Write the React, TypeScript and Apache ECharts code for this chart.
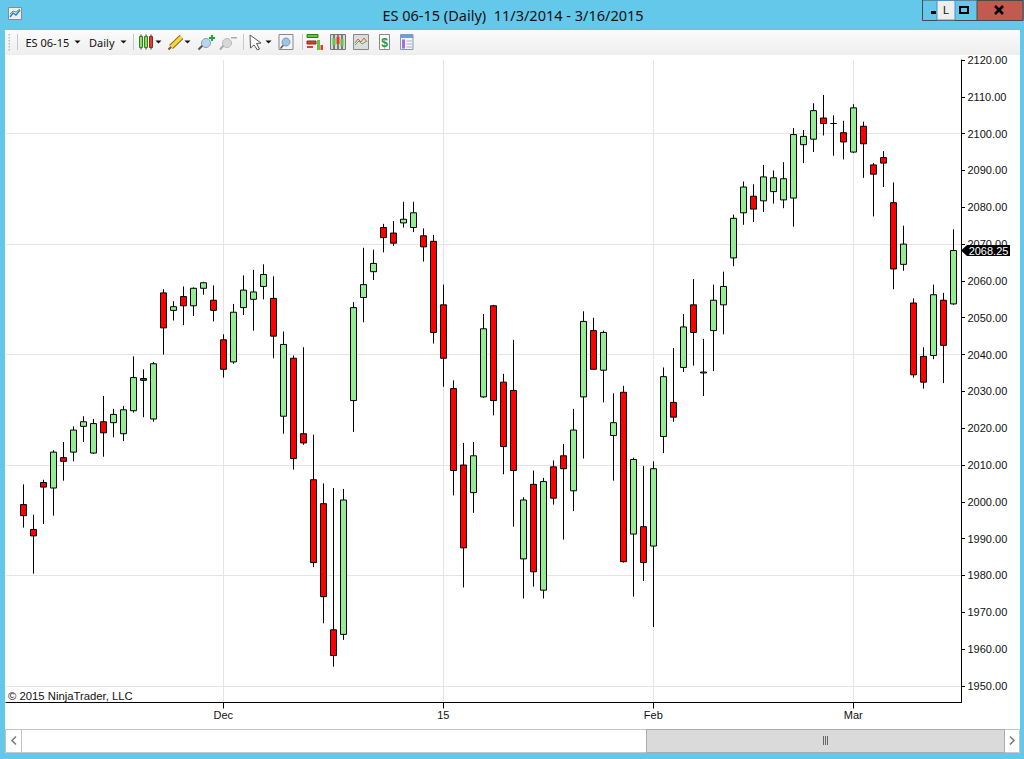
import React, { useEffect, useRef } from "react";
import * as echarts from "echarts";

const opens = [1999.25,1992.5,2005.25,2003.75,2012,2013.5,2020.5,2013.25,2021.75,2021.5,2018.5,2024.75,2033.5,2022.5,2056.75,2052,2055.75,2053.25,2058,2054.75,2044,2038,2052.75,2055,2058.5,2055.25,2023.25,2039,2018.5,2006,1999.5,1965.25,1964,2027.5,2055.5,2062.5,2074.5,2073,2075.75,2074.5,2072.25,2070.75,2053.5,2030.75,2010,2002.5,2028.5,2053.25,2032.5,2030.25,1984.5,2004.75,1976,2009.5,2012.5,2003,2028.5,2046.5,2035.75,2018,2029.75,1991.25,1993.25,1988,2017.75,2027,2036.5,2053.5,2035,2046.5,2053.5,2066.25,2078.5,2083,2081.75,2084.25,2082,2082.5,2097,2098.5,2104.25,2102.75,2100.25,2095,2102,2091.5,2093.5,2081.25,2064.5,2054,2039.5,2039.75,2054.75,2053.75];
const closes = [1996.25,1990.75,2004,2013.5,2011,2019.5,2021.75,2021.25,2018.75,2023.75,2025,2033.75,2033,2037.5,2047.25,2053,2053.25,2058,2059.5,2052,2036,2051.5,2057.5,2057,2061.75,2045,2042.75,2011.75,2016,1983.5,1974.25,1958.25,2000.5,2052.75,2059,2064.75,2071.75,2070.25,2076.75,2078.5,2069.25,2046,2039,2008.5,1987.5,2012.5,2047,2027.5,2015,2008.5,2000.5,1981,2005.5,2001,2009,2019.5,2049,2036,2046,2021.5,1983.75,2011.5,1983.5,2009,2034,2023,2047.5,2046,2035.25,2054.75,2058.5,2077,2085.5,2079.5,2088.25,2088,2087.75,2099.75,2099.25,2106.25,2102.75,2102.75,2097.75,2107,2097.25,2089,2092,2063.25,2070,2034.5,2032.5,2056.25,2042.5,2068.25];
const lows = [1993,1980.5,1994,1996.25,2005.75,2011,2016.25,2013,2012.25,2017.5,2016.5,2024.25,2023,2021.75,2040,2049.25,2048,2050.5,2056.25,2049,2033.75,2037.5,2050.75,2046.5,2055,2039,2018.5,2008.75,2015.5,1982.25,1967,1955.25,1962.5,2019,2048.75,2060.25,2067.75,2069.5,2074.5,2073.25,2065.25,2043,2031.25,2001.75,1976.75,1997,2028.25,2023.5,2007.5,1993.25,1973.75,1977,1973.75,1999.25,1989.75,1997.5,2011.75,2036,2027,2005.75,1983.5,1974.25,1978.5,1966,2013.25,2021.75,2035.25,2037,2028.75,2035.5,2045.5,2064,2075.25,2076,2078.75,2081,2079.75,2074.75,2092,2095,2099.5,2094,2093,2094.75,2088,2077.5,2085.5,2057.75,2062.75,2033.75,2030.75,2038.75,2032.25,2053.5];
const highs = [2004.75,1996.5,2006,2014,2016.25,2020.5,2023.25,2022.5,2028.75,2025.25,2026,2039.5,2036,2038,2057.75,2054.5,2058.5,2058.25,2059.75,2058.75,2045.5,2053.75,2061.5,2063,2064.5,2061.25,2046.25,2039.75,2042,2018.25,2005,2003.75,2003.5,2054.25,2069,2068.5,2075.5,2076.25,2081.5,2081.5,2074.25,2072.5,2059,2033,2016,2016.25,2051,2053.5,2034.75,2044,2001.25,2008.5,2006.5,2011.25,2015.75,2025.25,2051.75,2050,2046.5,2029.5,2031.5,2012,2009.75,2011,2036.5,2041.75,2051,2060.5,2044.25,2059,2062.5,2078,2087,2086.25,2091.5,2090,2092.25,2101.5,2101,2108.25,2110.5,2105,2103.5,2108,2103.25,2092,2095.25,2086.75,2075,2055.25,2042,2059,2056.75,2074];

const dateTicks = [20, 42, 63, 83];
const dateLabels = ["Dec", "15", "Feb", "Mar"];
const priceTicks = [1950,1960,1970,1980,1990,2000,2010,2020,2030,2040,2050,2060,2070,2080,2090,2100,2110,2120];
const gridPrices = [1950,1980,2010,2040,2070,2100];
const lastPrice = 2068.25;

const SANS = "'Liberation Sans', Arial, sans-serif";
const UI = "'Noto Sans', 'Open Sans', sans-serif";
const SKY = "#64C8EA";

const rect = (x: number, y: number, width: number, height: number, fill: string, stroke?: string, lineWidth = 1) => ({
  type: "rect", silent: true, shape: { x, y, width, height }, style: { fill, stroke: stroke ?? undefined, lineWidth },
});
const line = (x1: number, y1: number, x2: number, y2: number, stroke: string, lineWidth = 1) => ({
  type: "line", silent: true, shape: { x1, y1, x2, y2 }, style: { stroke, lineWidth },
});
const poly = (points: number[][], stroke: string, lineWidth = 1) => ({
  type: "polyline", silent: true, shape: { points }, style: { stroke, lineWidth, fill: "none" },
});
const tri = (x: number, y: number) => ({
  type: "polygon", silent: true, shape: { points: [[x - 3, y - 1.5], [x + 3, y - 1.5], [x, y + 1.5]] }, style: { fill: "#111" },
});
const label = (x: number, y: number, text: string, fontSize: number, fontFamily: string, fill = "#111", align = "left") => ({
  type: "text", silent: true, x, y, style: { text, fontSize, fontFamily, fill, align, verticalAlign: "middle" },
});
const circle = (cx: number, cy: number, r: number, fill: string, stroke: string, lineWidth = 1) => ({
  type: "circle", silent: true, shape: { cx, cy, r }, style: { fill, stroke, lineWidth },
});

const chrome: any[] = [
  // window frame
  rect(0, 0, 1024, 30, SKY),
  rect(0, 30, 5, 729, SKY),
  rect(1020, 30, 4, 729, SKY),
  rect(0, 753, 1024, 6, SKY),
  {
    type: "rect", silent: true, shape: { x: 5, y: 30, width: 1015, height: 25 },
    style: { fill: new echarts.graphic.LinearGradient(0, 0, 0, 1, [{ offset: 0, color: "#FBFBFB" }, { offset: 1, color: "#EEEEEE" }]) },
  },
  line(5, 29.5, 1020, 29.5, "#8FB6C6"),
  // app icon
  rect(8.5, 7.5, 13, 12, "#EDEDF2", "#8A8A94"),
  poly([[10, 17], [13, 13], [16, 15], [20, 10]], "#2F7FD0", 1.5),
  poly([[10, 14], [13, 11], [16, 12], [20, 9]], "#3FAF4F", 1),
  // title
  label(513, 15, "ES 06-15 (Daily)  11/3/2014 - 3/16/2015", 14.5, UI, "#111", "center"),
  // window buttons
  rect(922.5, 0, 100.5, 20.5, SKY, "#4A4A4A"),
  rect(977, 0.5, 46, 20, "#C15A4F", "#4A4A4A"),
  rect(931, 11, 5, 3, "#000"),
  rect(937, 0.5, 18, 19.5, "#EEEEEE", "#4C8FCB"),
  label(946, 10, "L", 11, SANS, "#111", "center"),
  rect(960, 7, 8, 6, "none", "#000", 2),
  line(995, 6, 1003, 14, "#000", 2.5),
  line(1003, 6, 995, 14, "#000", 2.5),
  // toolbar: grip and separators
  ...[34, 37, 40, 43, 46, 49].map((y) => rect(8.5, y, 1.5, 1.5, "#BBBBBB")),
  line(17.5, 34, 17.5, 50, "#C8C8C8"),
  line(133.5, 34, 133.5, 50, "#C8C8C8"),
  line(243.5, 34, 243.5, 50, "#C8C8C8"),
  line(302.5, 34, 302.5, 50, "#C8C8C8"),
  label(25.5, 42, "ES 06-15", 11, UI),
  tri(77.5, 42),
  label(89, 42, "Daily", 11, UI),
  tri(123.5, 42),
  // candle icon
  line(141, 34.5, 141, 49.5, "#333"), line(146, 34.5, 146, 49.5, "#333"), line(151, 34.5, 151, 49.5, "#333"),
  rect(139.5, 36.5, 3, 11, "#7FE35C", "#3E7A2E"), rect(144.5, 36.5, 3, 11, "#7FE35C", "#3E7A2E"), rect(149.5, 36.5, 3, 11, "#EE3A2E", "#8A2A20"),
  tri(158.5, 42),
  // pencil
  line(171, 47, 181.5, 37, "#8A6A18", 5.5), line(171, 47, 181.5, 37, "#F6D743", 3.5),
  line(168.5, 49.5, 171, 47, "#6A5A30", 2),
  tri(187.5, 42),
  // zoom in
  line(198.5, 49.5, 203, 45, "#555", 2), circle(206, 43, 4.5, "#B9D4EE", "#8AA0B5"),
  rect(209, 37, 6, 2, "#18A838"), rect(211, 35, 2, 6, "#18A838"),
  // zoom out
  line(220, 49.5, 224, 45, "#AAA", 2), circle(227, 43, 4.5, "#D8D8D8", "#BBB"), rect(231, 37, 6, 1.5, "#AAA"),
  // arrow
  { type: "polygon", silent: true, shape: { points: [[250, 35], [261, 43], [256.5, 43.5], [259.5, 49], [257.5, 50], [254, 45], [250.5, 48]] }, style: { fill: "#FFF", stroke: "#555", lineWidth: 1 } },
  tri(268.5, 42),
  // magnifier box
  rect(279, 34.5, 14, 15, "#F4F4F4", "#888"), line(280.5, 48.5, 283.5, 45, "#555", 1.5), circle(286, 42, 4, "#9CC3E8", "#7A9AB8"),
  // indicators icon
  rect(307, 34.5, 11, 3, "#5DC840", "#2E7A1E"), rect(307, 41, 9, 3, "#E53A2E", "#8A2A20"), rect(307, 46, 6, 2, "#E53A2E"),
  rect(317, 40, 3, 10, "#5DC840"), rect(320.5, 45, 2.5, 5, "#E53A2E"),
  // strategies icon
  rect(330.5, 34.5, 15, 15, "#D8D8D8", "#777"), line(334, 35, 334, 49, "#222"), line(338, 35, 338, 49, "#222"), line(342, 35, 342, 49, "#222"),
  rect(332.5, 38, 3, 7, "#5DC840"), rect(336.5, 37, 3, 7, "#E53A2E"), rect(340.5, 39, 3, 7, "#5DC840"),
  // chart icon
  rect(353.5, 34.5, 15, 15, "#DCDCDC", "#888"), poly([[355, 43], [358, 39], [361, 42], [364, 38], [367, 42]], "#E05A4A"), poly([[355, 45], [359, 41], [362, 44], [367, 41]], "#4FB85A"),
  // document icon
  rect(379.5, 34.5, 10, 15, "#FAFAFA", "#888"),
  { ...label(384.5, 42.5, "$", 12, SANS, "#1E9A3E", "center"), style: { text: "$", fontSize: 12, fontWeight: "bold", fontFamily: SANS, fill: "#1E9A3E", align: "center", verticalAlign: "middle" } },
  // window icon
  rect(400.5, 34.5, 12.5, 15, "#F4F7FB", "#7F9BB5"), rect(401, 35, 12, 3, "#58A8DE"), rect(402, 39.5, 3, 9, "#A56BE8"), line(406.5, 41, 412, 41, "#AAB"), line(406.5, 44, 412, 44, "#AAB"), line(406.5, 47, 412, 47, "#AAB"),
  // copyright
  label(8, 696, "\u00A9 2015 NinjaTrader, LLC", 11.3, SANS),
  // scrollbar
  rect(5.5, 729.5, 1014, 23, "#FFFFFF", "#C4C4C4"),
  line(21.5, 730, 21.5, 752, "#C4C4C4"),
  poly([[16, 736.5], [12, 740.5], [16, 744.5]], "#777", 1.5),
  rect(646.5, 729.5, 358, 23, "#DADADA", "#ABABAB"),
  line(823.5, 736, 823.5, 745, "#666"), line(825.5, 736, 825.5, 745, "#666"), line(827.5, 736, 827.5, 745, "#666"),
  poly([[1010, 736.5], [1014, 740.5], [1010, 744.5]], "#777", 1.5),
];

export default function App() {
  const ref = useRef<HTMLDivElement>(null);
  useEffect(() => {
    const chart = echarts.init(ref.current!, undefined, { renderer: "svg" });
    chart.setOption({
      animation: false,
      backgroundColor: "#FFFFFF",
      textStyle: { fontFamily: SANS },
      grid: { left: 6, top: 60, width: 955, height: 642.5, containLabel: false },
      xAxis: {
        type: "value",
        min: -1.73,
        max: 93.77,
        axisLine: { show: true, onZero: false, lineStyle: { color: "#000", width: 1 } },
        axisTick: { show: true, length: 6, customValues: dateTicks, lineStyle: { color: "#000" } },
        axisLabel: {
          show: true, margin: 7, fontSize: 11, color: "#111", fontFamily: SANS,
          customValues: dateTicks,
          formatter: (v: number) => dateLabels[dateTicks.indexOf(v)] ?? "",
        },
        splitLine: { show: true, lineStyle: { color: "#E4E4E4", width: 1 } },
      },
      yAxis: [
        {
          type: "value", position: "right", min: 1945.5, max: 2120,
          axisLine: { show: true, onZero: false, lineStyle: { color: "#000", width: 1 } },
          axisTick: { show: true, length: 4, customValues: priceTicks, lineStyle: { color: "#000" } },
          axisLabel: {
            show: true, margin: 6.5, fontSize: 11, color: "#111", fontFamily: SANS,
            padding: [1, 0, 0, 0],
            customValues: priceTicks, formatter: (v: number) => v.toFixed(2),
          },
          splitLine: { show: false },
        },
        {
          type: "value", position: "right", min: 1945.5, max: 2120,
          axisLine: { show: false },
          axisTick: { show: false, customValues: gridPrices },
          axisLabel: { show: false, customValues: gridPrices },
          splitLine: { show: true, lineStyle: { color: "#E4E4E4", width: 1 } },
        },
      ],
      series: [
        {
          type: "candlestick",
          yAxisIndex: 0,
          barWidth: 6,
          itemStyle: {
            color: "#90EE90", color0: "#FF0000",
            borderColor: "#000", borderColor0: "#000", borderColorDoji: "#000", borderWidth: 1,
          },
          encode: { x: 0, y: [1, 2, 3, 4] },
          data: opens.map((o, i) => [i, o, closes[i], lows[i], highs[i]]),
          markPoint: {
            silent: true,
            symbol: "path://M0,5.5 L6,0 L49,0 L49,11 L6,11 Z",
            symbolSize: [49, 11],
            symbolOffset: [24.5, 0],
            symbolKeepAspect: false,
            itemStyle: { color: "#000" },
            label: {
              show: true, position: "inside", offset: [3, 0], color: "#FFF", fontSize: 11, fontFamily: SANS,
              formatter: () => lastPrice.toFixed(2),
            },
            data: [{ coord: [93.77, lastPrice] }],
          },
        },
      ],
      graphic: { elements: chrome },
    });
    return () => chart.dispose();
  }, []);
  return <div ref={ref} style={{ position: "absolute", left: 0, top: 0, width: 1024, height: 759 }} />;
}
